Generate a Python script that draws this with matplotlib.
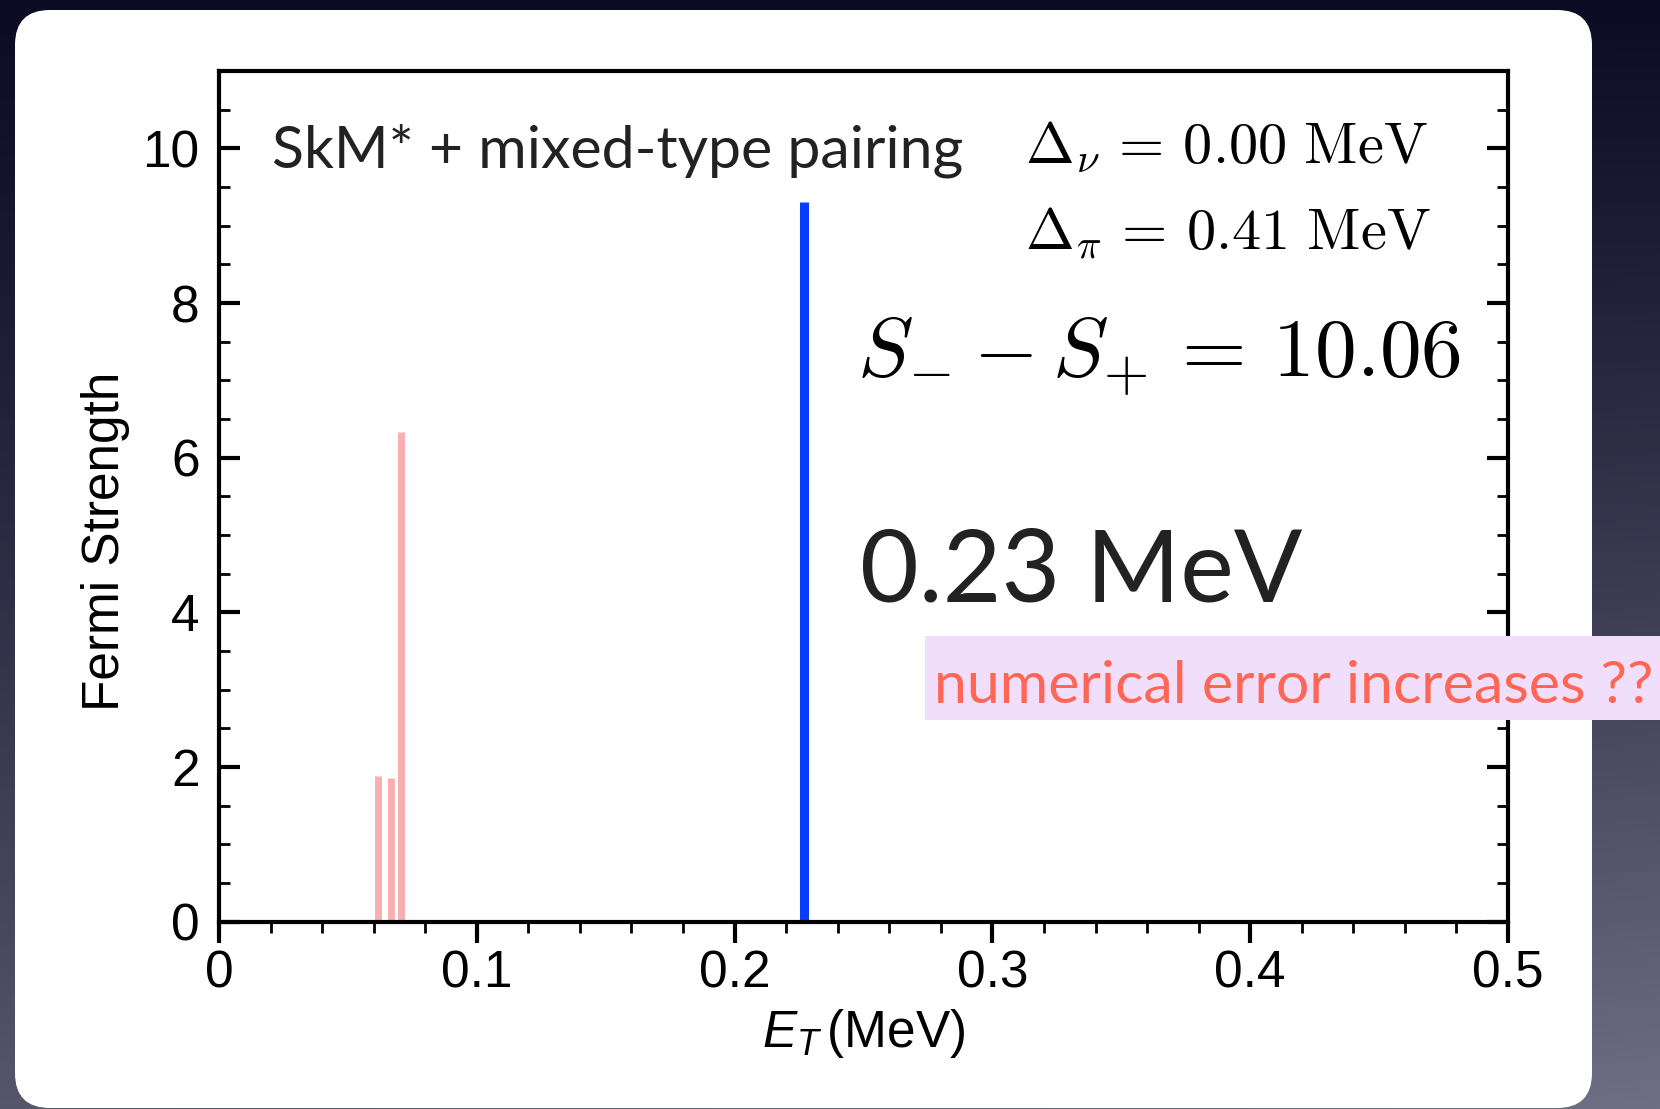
import numpy as np
import matplotlib
matplotlib.use("Agg")
import matplotlib.pyplot as plt
from matplotlib.patches import FancyBboxPatch, Rectangle
from matplotlib.ticker import MultipleLocator

# Fermi strength peaks (E_T in MeV, strength)
pink_E = [0.0615, 0.0666, 0.0705]
pink_S = [1.88, 1.86, 6.33]
blue_E = [0.2271]
blue_S = [9.31]

xticks = [0, 0.1, 0.2, 0.3, 0.4, 0.5]
xticklabels = ["0", "0.1", "0.2", "0.3", "0.4", "0.5"]
yticks = [0, 2, 4, 6, 8, 10]

plt.rcParams["mathtext.fontset"] = "custom"
plt.rcParams["mathtext.rm"] = "Liberation Sans"
plt.rcParams["mathtext.it"] = "Liberation Sans:italic"
sans = "Liberation Sans"
gill = "Lato"

W, H = 1660, 1109
fig = plt.figure(figsize=(W / 100, H / 100), dpi=100)

# background: dark gradient + white rounded panel (pixel coordinates)
bg = fig.add_axes([0, 0, 1, 1], zorder=0)
bg.set_xlim(0, W)
bg.set_ylim(H, 0)
bg.axis("off")
gy = np.linspace(0, 1, 256)[:, None]
gx = np.linspace(0, 1, 256)[None, :]
t = np.clip(0.75 * gy ** 1.2 + 0.25 * gx * gy, 0, 1)
top = np.array([12, 12, 36]) / 255
bot = np.array([112, 110, 132]) / 255
img = top[None, None, :] * (1 - t[..., None]) + bot[None, None, :] * t[..., None]
bg.imshow(img, extent=[0, W, H, 0], aspect="auto", zorder=0)
bg.add_patch(FancyBboxPatch((15, 10), 1577, 1098,
                            boxstyle="round,pad=0,rounding_size=35",
                            fc="white", ec="none", zorder=1))

# main axes
ax = fig.add_axes([219 / W, 1 - 921.7 / H, (1508 - 219) / W, (921.7 - 71) / H], zorder=2)
ax.patch.set_alpha(0)
ax.vlines(pink_E, 0, pink_S, colors="#F9AFB2", lw=5)
ax.vlines(blue_E, 0, blue_S, colors="#0A3CFF", lw=6.5)

ax.set_xlim(0, 0.5)
ax.set_ylim(0, 11)
ax.set_xticks(xticks)
ax.set_xticklabels(xticklabels)
ax.set_yticks(yticks)
ax.xaxis.set_minor_locator(MultipleLocator(0.02))
ax.yaxis.set_minor_locator(MultipleLocator(0.5))
for s in ax.spines.values():
    s.set_linewidth(3)
ax.tick_params(axis="x", which="major", direction="out", length=15, width=3,
               pad=5, labelsize=37, top=False)
ax.tick_params(axis="x", which="minor", direction="out", length=8, width=2, top=False)
ax.tick_params(axis="y", which="major", direction="in", length=15, width=3,
               pad=14, labelsize=37, left=True, right=True)
ax.tick_params(axis="y", which="minor", direction="in", length=8, width=2,
               left=True, right=True)
for lab in ax.get_xticklabels() + ax.get_yticklabels():
    lab.set_fontfamily(sans)

ax.set_xlabel("$E_{T}\\,$(MeV)", fontsize=37, family=sans, labelpad=6)
fig.text(106 / W, 1 - 541 / H, "Fermi Strength", rotation=90, fontsize=37,
         family=sans, ha="center", va="center")

ax.text(0.0205, 9.75, "SkM* + mixed-type pairing", fontsize=42.5, family=gill,
        color="#222222", va="baseline")
ax.text(0.3125, 9.81, r"$\Delta_\nu\,=\,0.00\ \mathrm{MeV}$", fontsize=42,
        math_fontfamily="cm", va="baseline")
ax.text(0.3125, 8.69, r"$\Delta_\pi\,=\,0.41\ \mathrm{MeV}$", fontsize=42,
        math_fontfamily="cm", va="baseline")
ax.text(0.2475, 7.05, r"$S_{-} - S_{+}\,=\,10.06$", fontsize=60,
        math_fontfamily="cm", va="baseline")
ax.text(0.2486, 4.14, "0.23 MeV", fontsize=73, family=gill, color="#222222",
        va="baseline")

# overlay note box
ov = fig.add_axes([0, 0, 1, 1], zorder=3)
ov.set_xlim(0, W)
ov.set_ylim(H, 0)
ov.axis("off")
ov.add_patch(Rectangle((925, 636), W - 925, 84, fc="#F0DEFA", ec="none"))
ov.text(934, 703, "numerical error increases ??", fontsize=42.5, family=gill,
        color="#FF6655", va="baseline")

fig.savefig("out.png", dpi=100)
